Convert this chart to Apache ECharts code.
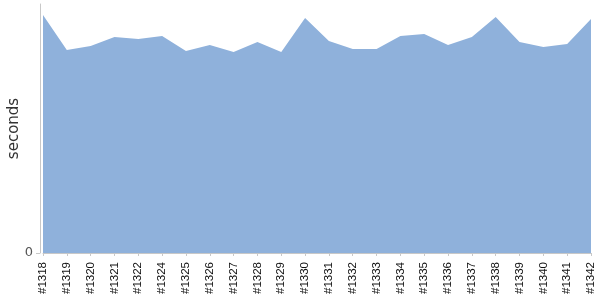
<!DOCTYPE html>
<html><head><meta charset="utf-8">
<script src="https://cdn.jsdelivr.net/npm/echarts@6/dist/echarts.min.js"></script>
<style>html,body{margin:0;padding:0;background:#fff}#c{width:600px;height:300px}</style>
</head><body><div id="c"></div>
<script>
const categories = ['#1318','#1319','#1320','#1321','#1322','#1324','#1325','#1326','#1327','#1328','#1329','#1330','#1331','#1332','#1333','#1334','#1335','#1336','#1337','#1338','#1339','#1340','#1341','#1342'];
const durations = [238,203,207,216,214,217,202,208,201,211,201,235,212,204,204,217,219,208,216,236,211,206,209,234];
const yMax = 249;
const yTickValues = [0];

const chart = echarts.init(document.getElementById('c'), null, {renderer:'canvas'});
chart.setOption({
  animation:false,
  grid:{left:43,right:9,top:4,bottom:47,containLabel:false,outerBoundsMode:'none'},
  xAxis:{
    type:'category', data:categories, boundaryGap:false, offset:4,
    axisLine:{lineStyle:{color:'#c8c8c8'}},
    axisTick:{show:true,length:3,interval:0,lineStyle:{color:'#c8c8c8'}},
    axisLabel:{rotate:90,interval:0,fontSize:11.5,color:'#111',margin:5,fontFamily:'Liberation Sans'},
    splitLine:{show:false}
  },
  yAxis:{
    type:'value', min:0, max:yMax, offset:3,
    name:'seconds', nameLocation:'middle', nameGap:18, nameMoveOverlap:false,
    nameTextStyle:{fontSize:15,color:'#333',fontFamily:'DejaVu Sans'},
    axisLine:{show:true,lineStyle:{color:'#c8c8c8'}},
    axisTick:{show:true,length:4,customValues:yTickValues,lineStyle:{color:'#c8c8c8'}},
    axisLabel:{customValues:yTickValues,fontSize:13,color:'#555',margin:7,fontFamily:'DejaVu Sans'},
    splitLine:{show:false}
  },
  series:[{
    type:'line', data:durations, symbol:'none',
    lineStyle:{width:0,color:'#8fb1db'},
    areaStyle:{color:'#8fb1db',opacity:1}
  }]
});
</script></body></html>
